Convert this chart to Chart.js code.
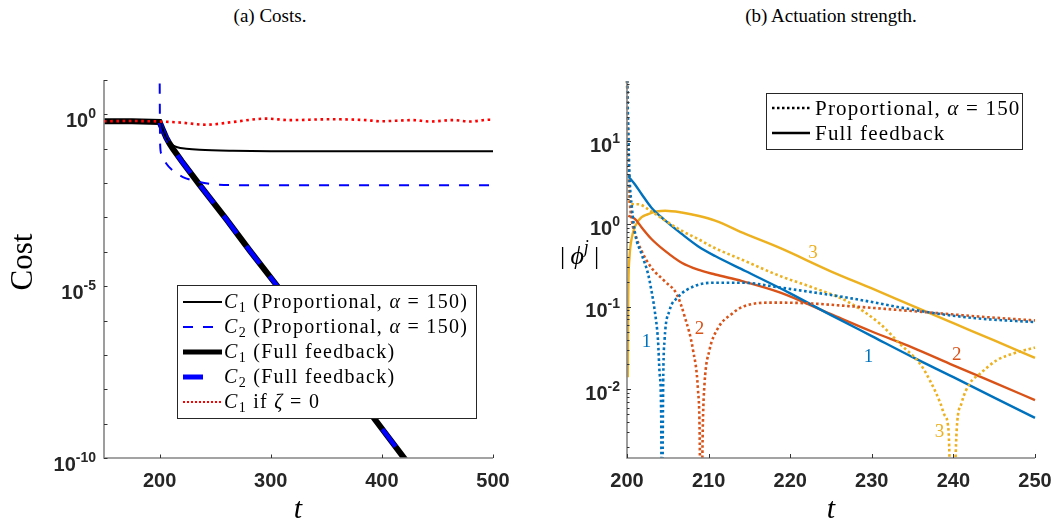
<!DOCTYPE html>
<html>
<head>
<meta charset="utf-8">
<script src="https://cdn.jsdelivr.net/npm/chart.js@4.4.0/dist/chart.umd.min.js"></script>
<style>
  html, body { margin: 0; padding: 0; background: #fff; }
  #wrap { position: relative; width: 1055px; height: 527px; overflow: hidden; }
  .title { position: absolute; top: 5px; font: 19px "Liberation Serif", serif; color: #000; transform: translateX(-50%); white-space: nowrap; }
  #costs { position: absolute; left: 0; top: 0; }
  #phi { position: absolute; left: 530px; top: 0; }
</style>
</head>
<body>
<div id="wrap">
  <div class="title" style="left:270px">(a) Costs.</div>
  <div class="title" style="left:831px">(b) Actuation strength.</div>
  <canvas id="costs" width="530" height="527"></canvas>
  <canvas id="phi" width="525" height="527"></canvas>
</div>
<script>
'use strict';

const SERIF = '"Liberation Serif", "Times New Roman", serif';
const SANS = '"Liberation Sans", Arial, sans-serif';

// ---------- (a) Costs ----------
// C1 when zeta = 0 (red dotted)
const zetaT = [150, 175, 200, 218, 242, 266, 296, 317, 353, 386, 398, 428, 443, 464, 479, 497, 500];
const zetaC1 = [0.63, 0.64, 0.62, 0.58, 0.50, 0.60, 0.75, 0.68, 0.72, 0.68, 0.63, 0.68, 0.62, 0.68, 0.62, 0.70, 0.69];

// proportional controller, alpha = 150
const propC1T = [150, 175, 200, 203, 206, 209, 212, 216, 224, 236, 266, 300, 500];
const propC1 = [0.63, 0.63, 0.60, 0.355, 0.21, 0.151, 0.126, 0.110, 0.100, 0.093, 0.087, 0.085, 0.085];
const propC2T = [200, 200.5, 201.5, 206, 212, 221, 230, 248, 270, 500];
const propC2 = [30, 0.14, 0.072, 0.037, 0.023, 0.015, 0.012, 0.0093, 0.0087, 0.0087];

// full feedback
const fullC1T = [150, 175, 200, 203, 206, 209, 212, 220, 236, 260, 281, 305, 340, 394, 420, 430];
const fullC1 = [0.63, 0.63, 0.60, 0.355, 0.21, 0.141, 0.10, 0.043, 0.0089, 8.9e-4, 1.1e-4, 1.1e-5, 3.5e-7, 1.3e-9, 1.0e-10, 3.5e-11];
const fullC2T = [200, 203, 206, 209, 212, 220, 236, 260, 281, 305, 340, 394, 420, 430];
const fullC2 = [0.60, 0.355, 0.21, 0.141, 0.10, 0.043, 0.0089, 8.9e-4, 1.1e-4, 1.1e-5, 3.5e-7, 1.3e-9, 1.0e-10, 3.5e-11];

const costXTicks = [200, 300, 400, 500];
const costYTicks = [1e-10, 1e-9, 1e-8, 1e-7, 1e-6, 1e-5, 1e-4, 1e-3, 1e-2, 1e-1, 1, 10];
const costYLabels = [[1e-10, '-10'], [1e-5, '-5'], [1, '0']];

// ---------- (b) Actuation strength ----------
const blueFullT = [200.15, 201, 201.8, 203, 204.7, 206.7, 208.7, 210.8, 214.5, 220, 225, 230, 235, 240, 245, 250];
const blueFull = [3.8, 3.0, 2.3, 1.58, 1.10, 0.76, 0.54, 0.41, 0.27, 0.145, 0.079, 0.044, 0.0245, 0.014, 0.0079, 0.0045];
const orangeFullT = [200.15, 201, 201.8, 203, 204.7, 206.7, 208.7, 210.8, 214.1, 218.8, 225, 230, 235, 240, 245, 250];
const orangeFull = [1.26, 1.15, 0.91, 0.66, 0.47, 0.34, 0.28, 0.245, 0.204, 0.148, 0.081, 0.050, 0.032, 0.0195, 0.012, 0.0074];
const yellowFullT = [200.1, 200.15, 200.3, 200.6, 201.4, 202.6, 204.7, 206.7, 208.7, 210.8, 214.5, 218.8, 224.9, 230, 235, 240, 245, 250];
const yellowFull = [0.014, 0.126, 0.39, 0.69, 1.10, 1.32, 1.45, 1.38, 1.26, 1.10, 0.76, 0.51, 0.27, 0.166, 0.102, 0.063, 0.039, 0.024];

const bluePropT = [200, 200.3, 200.6, 201, 201.8, 202.6, 203, 203.4, 203.8, 204, 204.2, 204.25, 204.45, 204.6, 205.2, 206.2, 208.3, 210.8, 214.1, 218.8, 226.9, 237.1, 243, 250];
const blueProp = [63, 4.0, 1.58, 0.76, 0.43, 0.245, 0.155, 0.089, 0.039, 0.0155, 0.0039, 0.0001, 0.0155, 0.039, 0.089, 0.129, 0.178, 0.195, 0.195, 0.17, 0.129, 0.085, 0.072, 0.065];
const orangePropT = [200, 200.3, 200.6, 201, 201.8, 203, 204.6, 206.1, 207.1, 208.1, 208.7, 208.9, 209.05, 209.3, 209.5, 210.1, 211.2, 212.8, 214.2, 217.9, 222, 226.9, 237.1, 243, 250];
const orangeProp = [63, 2.5, 1.10, 0.76, 0.47, 0.295, 0.204, 0.141, 0.074, 0.0295, 0.0098, 0.0032, 0.0001, 0.0039, 0.0117, 0.0295, 0.056, 0.081, 0.10, 0.112, 0.11, 0.102, 0.085, 0.076, 0.068];
const yellowPropT = [200, 200.2, 200.4, 201.4, 202.6, 204.7, 206.7, 208.7, 210.8, 214.1, 218.8, 222.8, 226.9, 231, 233.5, 235.9, 237.1, 238.4, 238.9, 239.4, 239.85, 240.4, 241, 242, 243.3, 245.3, 247.3, 250];
const yellowProp = [63, 3.2, 1.74, 1.74, 1.51, 1.10, 0.83, 0.66, 0.51, 0.37, 0.234, 0.17, 0.117, 0.062, 0.035, 0.0204, 0.0129, 0.0068, 0.0049, 0.0032, 0.0001, 0.0032, 0.0068, 0.0117, 0.0155, 0.0224, 0.027, 0.032];

// mode number labels next to the curves
const annT = [202.4, 208.9, 229.6, 240.4, 238.3, 222.8];
const annV = [0.037, 0.054, 0.0245, 0.0257, 0.0030, 0.45];
const annText = ['1', '2', '1', '2', '3', '3'];
const annColor = [0, 1, 0, 1, 2, 2];

const phiXTicks = [200, 210, 220, 230, 240, 250];
const phiYTicks = [0.01, 0.1, 1, 10];
const phiYLabels = [[0.01, '-2'], [0.1, '-1'], [1, '0'], [10, '1']];

const modeColors = ['#0072BD', '#D95319', '#EDB120'];

function pts(xs, ys) {
  return xs.map((x, i) => ({x: x, y: ys[i]}));
}

// draws text with {italic}, _sub and ^sup pieces
function richText(ctx, str, x, y, size, color, spacing) {
  const re = /\{([^}]*)\}|_(.)|\^(.)|([^{_^]+)/g;
  let m;
  ctx.save();
  ctx.fillStyle = color;
  ctx.textAlign = 'left';
  ctx.textBaseline = 'alphabetic';
  if (spacing) ctx.letterSpacing = spacing + 'px';
  while ((m = re.exec(str)) !== null) {
    let txt, font, dy = 0;
    if (m[1] !== undefined) { txt = m[1]; font = 'italic ' + size + 'px ' + SERIF; }
    else if (m[2] !== undefined) { txt = m[2]; font = Math.round(size * 0.7) + 'px ' + SERIF; dy = size * 0.22; }
    else if (m[3] !== undefined) { txt = m[3]; font = 'italic ' + Math.round(size * 0.7) + 'px ' + SERIF; dy = -size * 0.42; }
    else { txt = m[4]; font = size + 'px ' + SERIF; }
    ctx.font = font;
    ctx.fillText(txt, x, y + dy);
    x += ctx.measureText(txt).width;
  }
  ctx.restore();
  return x;
}

// "10^e" tick label, right aligned
function powLabel(ctx, e, xRight, yTick, o) {
  ctx.font = 'bold ' + o.supSize + 'px ' + SANS;
  const w2 = ctx.measureText(e).width;
  ctx.font = 'bold ' + o.baseSize + 'px ' + SANS;
  const w1 = ctx.measureText('10').width;
  ctx.textAlign = 'left';
  ctx.textBaseline = 'alphabetic';
  ctx.fillText('10', xRight - w1 - w2, yTick + o.baseDy);
  ctx.font = 'bold ' + o.supSize + 'px ' + SANS;
  ctx.fillText(e, xRight - w2, yTick + o.supDy);
}

// MATLAB-like axes: inward ticks, gray axis lines, bold labels
const axesDeco = {
  id: 'axesDeco',
  afterDraw(chart, args, o) {
    const ctx = chart.ctx, xs = chart.scales.x, ys = chart.scales.y, a = chart.chartArea;
    ctx.save();
    ctx.strokeStyle = '#858585';
    ctx.lineWidth = 1.6;
    ctx.beginPath();
    ctx.moveTo(a.left, a.top);
    ctx.lineTo(a.left, a.bottom);
    ctx.lineTo(a.right, a.bottom);
    ctx.stroke();

    ctx.strokeStyle = '#333';
    ctx.lineWidth = 1;
    ctx.beginPath();
    o.xTicks.forEach(v => {
      const p = Math.round(xs.getPixelForValue(v)) + 0.5;
      ctx.moveTo(p, a.bottom); ctx.lineTo(p, a.bottom - o.tickLen);
    });
    o.yTicks.forEach(v => {
      const p = Math.round(ys.getPixelForValue(v)) + 0.5;
      ctx.moveTo(a.left, p); ctx.lineTo(a.left + o.tickLen, p);
    });
    o.yMinor.forEach(v => {
      const p = Math.round(ys.getPixelForValue(v)) + 0.5;
      ctx.moveTo(a.left, p); ctx.lineTo(a.left + o.minorLen, p);
    });
    ctx.stroke();

    ctx.fillStyle = '#262626';
    ctx.font = 'bold 20px ' + SANS;
    ctx.textAlign = 'center';
    ctx.textBaseline = 'alphabetic';
    o.xTicks.forEach(v => ctx.fillText(String(v), xs.getPixelForValue(v), 487));
    o.yLabels.forEach(l => powLabel(ctx, l[1], a.left - o.labelGap, ys.getPixelForValue(l[0]), o));
    ctx.restore();
  }
};

// ---------- chart (a) ----------
const costExtras = {
  id: 'costExtras',
  afterDraw(chart) {
    const ctx = chart.ctx;
    ctx.save();
    ctx.fillStyle = '#000';
    ctx.font = '31px ' + SERIF;
    ctx.textAlign = 'center';
    ctx.textBaseline = 'middle';
    ctx.translate(24, 262);
    ctx.rotate(-Math.PI / 2);
    ctx.fillText('Cost', 0, 0);
    ctx.restore();

    ctx.save();
    ctx.fillStyle = '#000';
    ctx.font = 'italic 30px ' + SERIF;
    ctx.textAlign = 'center';
    ctx.fillText('t', 298, 518);

    // legend box
    const bx = 177, by = 285, bw = 299, bh = 133;
    ctx.fillStyle = '#fff';
    ctx.fillRect(bx, by, bw, bh);
    ctx.strokeStyle = '#262626';
    ctx.lineWidth = 1;
    ctx.strokeRect(bx + 0.5, by + 0.5, bw, bh);
    const rows = [302, 327, 352, 377, 402];
    chart.data.datasets.forEach((ds, i) => {
      ctx.save();
      ctx.strokeStyle = ds.borderColor;
      ctx.lineWidth = ds.legendWidth || ds.borderWidth;
      ctx.setLineDash(ds.legendDash || ds.borderDash || []);
      ctx.beginPath();
      ctx.moveTo(183, rows[i]);
      ctx.lineTo(222, rows[i]);
      ctx.stroke();
      ctx.restore();
      richText(ctx, ds.label, 224, rows[i] + 6, 20, '#000', 1.3);
    });
    ctx.restore();
  }
};

const lineBase = {pointRadius: 0, fill: false, clip: {left: 2, top: 0, right: 2, bottom: 0}};

new Chart(document.getElementById('costs'), {
  type: 'line',
  data: {
    datasets: [
      Object.assign({label: '{C}_1 (Proportional, {α} = 150)', data: pts(propC1T, propC1),
        borderColor: '#000', borderWidth: 2, order: 3, cubicInterpolationMode: 'monotone'}, lineBase),
      Object.assign({label: '{C}_2 (Proportional, {α} = 150)', data: pts(propC2T, propC2),
        borderColor: '#0000FF', borderWidth: 2, borderDash: [10, 10], order: 2, cubicInterpolationMode: 'monotone'}, lineBase),
      Object.assign({label: '{C}_1 (Full feedback)', data: pts(fullC1T, fullC1),
        borderColor: '#000', borderWidth: 6, legendWidth: 5, order: 5}, lineBase),
      Object.assign({label: '{C}_2 (Full feedback)', data: pts(fullC2T, fullC2),
        borderColor: '#0000FF', borderWidth: 4.5, legendWidth: 5, borderDash: [22, 16], legendDash: [20, 40], order: 4}, lineBase),
      Object.assign({label: '{C}_1 if {ζ} = 0', data: pts(zetaT, zetaC1),
        borderColor: '#FF0000', borderWidth: 2.6, borderDash: [2.6, 3.6], legendWidth: 2, legendDash: [2, 2], order: 1,
        cubicInterpolationMode: 'monotone'}, lineBase)
    ]
  },
  options: {
    responsive: false,
    animation: false,
    layout: {padding: {left: 0, right: 37, top: 80, bottom: 0}},
    scales: {
      x: {
        type: 'linear', min: 150, max: 500,
        grid: {display: false}, border: {display: false}, ticks: {display: false},
        afterFit: s => { s.height = 69; }
      },
      y: {
        type: 'logarithmic', min: 1e-10, max: 10,
        grid: {display: false}, border: {display: false}, ticks: {display: false},
        afterFit: s => { s.width = 104; }
      }
    },
    plugins: {
      legend: {display: false},
      tooltip: {enabled: false},
      axesDeco: {
        xTicks: costXTicks, yTicks: costYTicks, yMinor: [], yLabels: costYLabels,
        tickLen: 3.5, minorLen: 0, labelGap: 8,
        baseSize: 20, supSize: 14, baseDy: 13, supDy: 4
      }
    }
  },
  plugins: [axesDeco, costExtras]
});

// ---------- chart (b) ----------
const phiMinor = [];
[0.001, 0.01, 0.1, 1, 10].forEach(d => {
  for (let k = 2; k <= 9; k++) {
    const v = k * d;
    if (v > 0.00147 && v < 54) phiMinor.push(v);
  }
});

const phiExtras = {
  id: 'phiExtras',
  afterDraw(chart) {
    const ctx = chart.ctx, xs = chart.scales.x, ys = chart.scales.y;
    ctx.save();
    richText(ctx, '|\u2009{ϕ}^j\u2009|', 30, 264, 26, '#000');
    ctx.fillStyle = '#000';
    ctx.font = 'italic 30px ' + SERIF;
    ctx.textAlign = 'center';
    ctx.fillText('t', 301, 518);

    ctx.font = '19px ' + SERIF;
    ctx.textBaseline = 'middle';
    annT.forEach((t, i) => {
      ctx.fillStyle = modeColors[annColor[i]];
      ctx.fillText(annText[i], xs.getPixelForValue(t), ys.getPixelForValue(annV[i]));
    });

    // legend box
    const bx = 236, by = 93, bw = 256, bh = 56;
    ctx.fillStyle = '#fff';
    ctx.fillRect(bx, by, bw, bh);
    ctx.strokeStyle = '#262626';
    ctx.lineWidth = 1;
    ctx.strokeRect(bx + 0.5, by + 0.5, bw, bh);
    const items = [
      {text: 'Proportional, {α} = 150', dash: [2.5, 2.5], y: 108},
      {text: 'Full feedback', dash: [], y: 133}
    ];
    items.forEach(it => {
      ctx.save();
      ctx.strokeStyle = '#000';
      ctx.lineWidth = 2.5;
      ctx.setLineDash(it.dash);
      ctx.beginPath();
      ctx.moveTo(242, it.y);
      ctx.lineTo(280, it.y);
      ctx.stroke();
      ctx.restore();
      richText(ctx, it.text, 285, it.y + 6.5, 21, '#000', 1.2);
    });
    ctx.restore();
  }
};

const dotted = {borderWidth: 2.6, borderDash: [2.6, 2.6], cubicInterpolationMode: 'monotone'};
const solid = {borderWidth: 2.4, cubicInterpolationMode: 'monotone'};

new Chart(document.getElementById('phi'), {
  type: 'line',
  data: {
    datasets: [
      Object.assign({label: 'mode 1 proportional', data: pts(bluePropT, blueProp), borderColor: modeColors[0]}, dotted, lineBase),
      Object.assign({label: 'mode 2 proportional', data: pts(orangePropT, orangeProp), borderColor: modeColors[1]}, dotted, lineBase),
      Object.assign({label: 'mode 3 proportional', data: pts(yellowPropT, yellowProp), borderColor: modeColors[2]}, dotted, lineBase),
      Object.assign({label: 'mode 1 full', data: pts(blueFullT, blueFull), borderColor: modeColors[0]}, solid, lineBase),
      Object.assign({label: 'mode 2 full', data: pts(orangeFullT, orangeFull), borderColor: modeColors[1]}, solid, lineBase),
      Object.assign({label: 'mode 3 full', data: pts(yellowFullT, yellowFull), borderColor: modeColors[2]}, solid, lineBase)
    ]
  },
  options: {
    responsive: false,
    animation: false,
    layout: {padding: {left: 0, right: 20, top: 81, bottom: 0}},
    scales: {
      x: {
        type: 'linear', min: 200, max: 250,
        grid: {display: false}, border: {display: false}, ticks: {display: false},
        afterFit: s => { s.height = 69; }
      },
      y: {
        type: 'logarithmic', min: 0.00147, max: 54,
        grid: {display: false}, border: {display: false}, ticks: {display: false},
        afterFit: s => { s.width = 97; }
      }
    },
    plugins: {
      legend: {display: false},
      tooltip: {enabled: false},
      axesDeco: {
        xTicks: phiXTicks, yTicks: phiYTicks, yMinor: phiMinor, yLabels: phiYLabels,
        tickLen: 4, minorLen: 2.5, labelGap: 7,
        baseSize: 20, supSize: 14, baseDy: 10.5, supDy: 1.5
      }
    }
  },
  plugins: [axesDeco, phiExtras]
});
</script>
</body>
</html>
